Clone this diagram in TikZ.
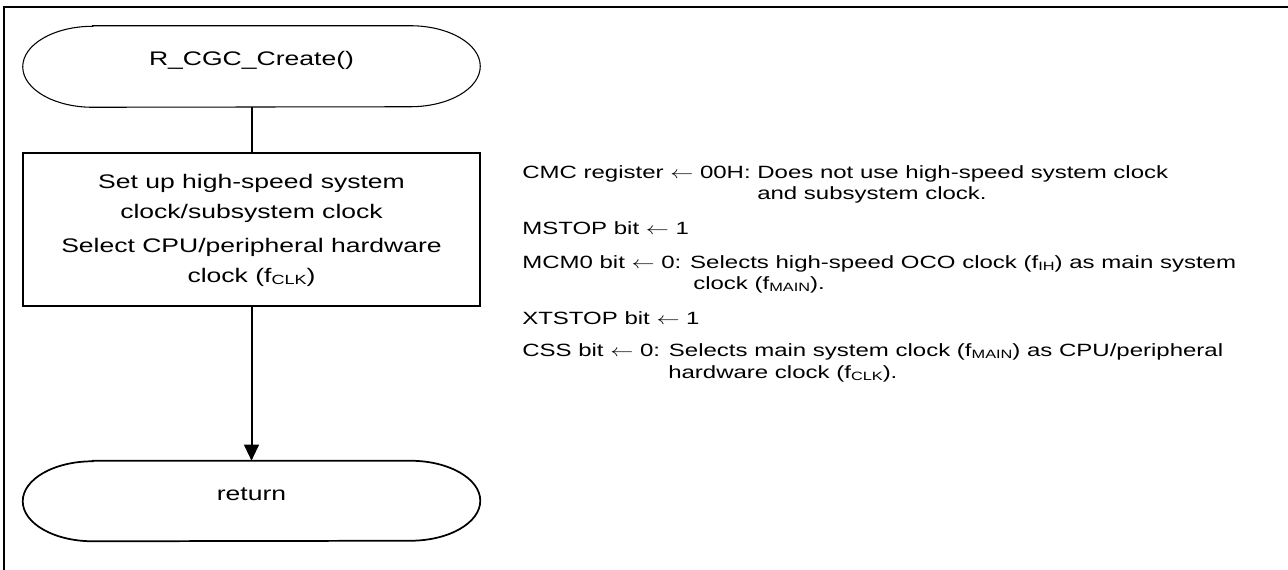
\documentclass[tikz,border=0pt]{standalone}
\usepackage{fontspec}
\setmainfont{Liberation Sans}
\usepackage{graphicx}
\usetikzlibrary{arrows.meta}
\newcommand{\sq}[1]{\scalebox{1}[0.74]{#1}}
\newcommand{\lsub}[1]{\raisebox{-0.1em}{\scalebox{0.68}{#1}}}
\newcommand{\larr}{\ensuremath{\leftarrow}}
\begin{document}
\begin{tikzpicture}[x=0.75pt,y=-0.75pt,
  frame/.style={line width=1.9pt},
  lbl/.style={anchor=west, inner sep=0pt, text height=9.5pt, text depth=0pt,
    font=\fontsize{18pt}{21pt}\selectfont},
  term/.style={minimum width=342.75pt, inner sep=0pt, text height=10.5pt, text depth=12pt,
    font=\fontsize{19.9pt}{24pt}\selectfont},
  procbox/.style={draw, line width=1.5pt, minimum width=342.75pt, minimum height=114.75pt,
    inner sep=0pt, align=center},
  conn/.style={line width=1.5pt},
  arrconn/.style={line width=1.5pt, -{Triangle[length=12pt,width=11pt]}},
  startline/.style={line width=0.8pt},
  retline/.style={line width=1.3pt}
]
\useasboundingbox (0,0) rectangle (1288,569);
\draw[frame] (4,580) -- (4,7) -- (1300,7);

% start terminal
\node[term, minimum height=60.75pt] (s) at (251.5,66.5) {\sq{R\_CGC\_Create()}};
\draw[startline] ([xshift=52.5pt]s.north west) -- ([xshift=-52.5pt]s.north east)
  arc[start angle=90, end angle=-90, x radius=52.5pt, y radius=30.375pt]
  -- ([xshift=52.5pt]s.south west)
  arc[start angle=270, end angle=90, x radius=52.5pt, y radius=30.375pt] -- cycle;

% process box
\node[procbox] (p) at (251.5,229.5) {\sq{\fontsize{19.9pt}{30.4pt}\selectfont
  \begin{tabular}{@{}c@{}}Set up high-speed system\\ clock/subsystem clock\\[5pt]
  Select CPU/peripheral hardware\\ clock (f\lsub{CLK})\end{tabular}}};

% return terminal
\node[term, minimum height=60pt] (r) at (251.5,501) {\sq{return}};
\draw[retline] ([xshift=52.5pt]r.north west) -- ([xshift=-52.5pt]r.north east)
  arc[start angle=90, end angle=-90, x radius=52.5pt, y radius=30pt]
  -- ([xshift=52.5pt]r.south west)
  arc[start angle=270, end angle=90, x radius=52.5pt, y radius=30pt] -- cycle;

\draw[conn] (s.south) -- (p.north);
\draw[arrconn] (p.south) -- (r.north);

% annotations
\node[lbl] (t1) at (522,172) {\sq{CMC register \larr{} 00H: Does not use high-speed system clock}};
\node[lbl] (t2) at (757,193) {\sq{and subsystem clock.}};
\node[lbl] (t3) at (522,228) {\sq{MSTOP bit \larr{} 1}};
\node[lbl] (t4) at (522,262) {\sq{MCM0 bit \larr{} 0: Selects high-speed OCO clock (f\lsub{IH}) as main system}};
\node[lbl] (t5) at (693,283) {\sq{clock (f\lsub{MAIN}).}};
\node[lbl] (t6) at (522,318) {\sq{XTSTOP bit \larr{} 1}};
\node[lbl] (t7) at (522,350) {\sq{CSS bit \larr{} 0: Selects main system clock (f\lsub{MAIN}) as CPU/peripheral}};
\node[lbl] (t8) at (668,372) {\sq{hardware clock (f\lsub{CLK}).}};
\end{tikzpicture}
\end{document}
